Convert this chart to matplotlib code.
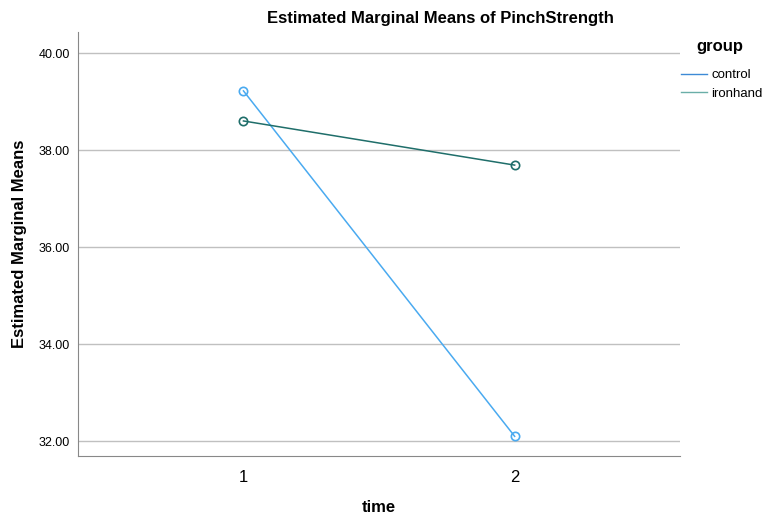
import matplotlib.pyplot as plt

plt.rcParams['font.family'] = ['Liberation Sans', 'DejaVu Sans']

times = [1, 2]
groups = ['control', 'ironhand']
control = [39.22, 32.10]
ironhand = [38.60, 37.69]
line_colors = ['#4aaaf0', '#1f6e6a']
legend_colors = ['#3d8ad6', '#6aaea8']

fig = plt.figure(figsize=(7.65, 5.19), dpi=100)
ax = fig.add_axes([0.102, 0.121, 0.787, 0.817])

for vals, c in zip([control, ironhand], line_colors):
    ax.plot(times, vals, color=c, lw=1.1, marker='o', ms=6,
            mfc='none', mec=c, mew=1.2)

ax.set_xlim(0.39, 2.61)
ax.set_ylim(31.69, 40.43)
ax.set_xticks(times)
ax.set_yticks([32, 34, 36, 38, 40])
ax.set_yticklabels(['32.00', '34.00', '36.00', '38.00', '40.00'], fontsize=9)
ax.tick_params(axis='x', labelsize=12, length=0, pad=10)
ax.tick_params(axis='y', length=0, pad=6)
ax.yaxis.grid(True, color='#c0c0c0', lw=1)
ax.set_axisbelow(True)
for s in ['top', 'right']:
    ax.spines[s].set_visible(False)
for s in ['left', 'bottom']:
    ax.spines[s].set_color('#888888')

ax.set_xlabel('time', fontsize=12, fontweight='bold', labelpad=11)
ax.set_ylabel('Estimated Marginal Means', fontsize=12, fontweight='bold',
              labelpad=8)
fig.text(440 / 765, 1 - 18 / 519, 'Estimated Marginal Means of PinchStrength',
         ha='center', va='center', fontsize=12, fontweight='bold')

# legend title drawn on its own so the gap to the entries matches
fig.text(720 / 765, 1 - 47 / 519, 'group', ha='center', va='center',
         fontsize=12, fontweight='bold')
handles = [plt.Line2D([0], [0], color=c, lw=1) for c in legend_colors]
leg = fig.legend(handles, groups, loc='upper left',
                 bbox_to_anchor=(681 / 765, 1 - 69 / 519), frameon=False,
                 fontsize=9.5, handlelength=2.0, handletextpad=0.3,
                 labelspacing=0.5, borderpad=0, borderaxespad=0)

fig.savefig('out.png', dpi=100)
